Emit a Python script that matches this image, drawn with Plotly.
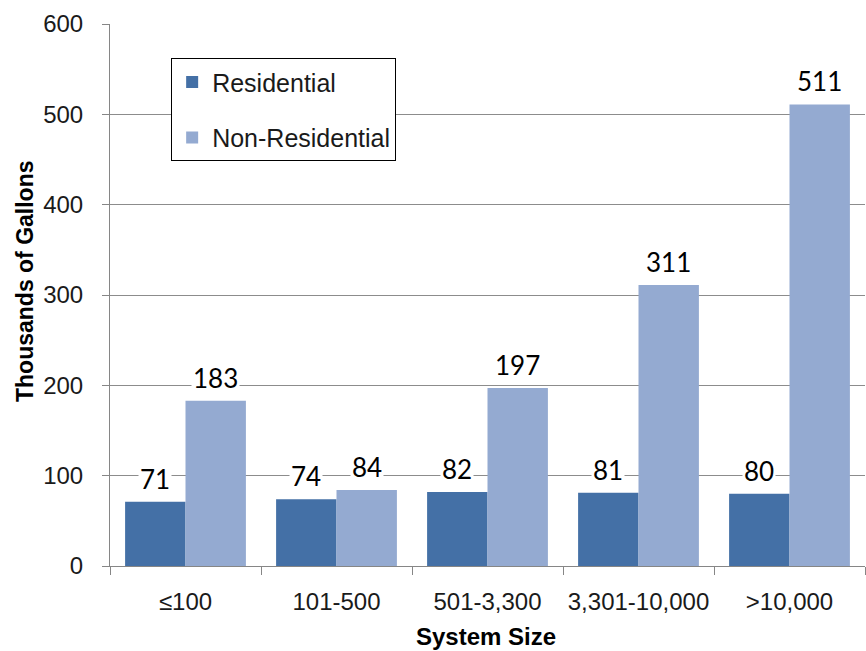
import plotly.graph_objects as go

# Water use per connection by system size
categories = ["≤100", "101-500", "501-3,300", "3,301-10,000", ">10,000"]
residential = [71, 74, 82, 81, 80]
non_residential = [183, 84, 197, 311, 511]
y_ticks = [0, 100, 200, 300, 400, 500, 600]

dark_blue = "#4470A6"
light_blue = "#94AAD1"

fig = go.Figure()
fig.add_trace(go.Bar(x=categories, y=residential, name="Residential",
                     marker=dict(color=dark_blue, line=dict(width=0)),
                     legendgroup="a"))
fig.add_trace(go.Bar(x=categories, y=non_residential, name="Non-Residential",
                     marker=dict(color=light_blue, line=dict(width=0)),
                     legendgroup="b"))

# Value labels above each bar, on a white backing so gridlines stop around them
label_font = dict(family="Lato, Open Sans, sans-serif", size=26, color="#000000")
for i, cat in enumerate(categories):
    for off, vals in ((-0.2, residential), (0.2, non_residential)):
        fig.add_annotation(x=i + off, y=vals[i], xref="x", yref="y",
                           text=str(vals[i]), showarrow=False,
                           yanchor="bottom", yshift=5,
                           bgcolor="white", borderpad=1,
                           font=label_font)

title_font = dict(size=23, family="Liberation Sans, Arial, sans-serif", color="#000000")

# Vertical axis title, placed slightly above the plot's middle
fig.add_annotation(x=0, y=0.5, xref="paper", yref="paper",
                   text="<b>Thousands of Gallons</b>", showarrow=False,
                   textangle=-90, xanchor="center", yanchor="middle",
                   xshift=-85, yshift=14, font=title_font)

# Horizontal axis title, sitting low against the bottom edge
fig.add_annotation(x=0.5, y=0, xref="paper", yref="paper",
                   text="<b>System Size</b>", showarrow=False,
                   xanchor="center", yanchor="middle",
                   xshift=-2, yshift=-70,
                   font=dict(title_font, size=24))

fig.update_layout(
    width=866, height=651,
    margin=dict(l=110, r=1, t=24, b=85, autoexpand=False),
    paper_bgcolor="white", plot_bgcolor="white",
    barmode="group", bargap=0.2, bargroupgap=0,
    font=dict(family="Liberation Sans, Arial, sans-serif", color="#1a1a1a"),
    legend=dict(x=0.081, y=0.937, xanchor="left", yanchor="top",
                bordercolor="#000000", borderwidth=1, bgcolor="white",
                font=dict(size=25, family="Liberation Sans, Arial, sans-serif"),
                tracegroupgap=20, itemwidth=30),
    xaxis=dict(
        type="category", automargin=False,
        showline=True, linecolor="#868686", linewidth=1,
        ticks="outside", tickson="boundaries", ticklen=8, tickcolor="#868686",
        ticklabelstandoff=14,
        tickfont=dict(size=24),
    ),
    yaxis=dict(
        range=[0, 600], tickvals=y_ticks, automargin=False,
        showgrid=True, gridcolor="#8C8C8C", gridwidth=1,
        showline=True, linecolor="#868686", linewidth=1,
        ticks="outside", ticklen=7, tickcolor="#868686",
        ticklabelstandoff=14,
        tickfont=dict(size=24),
        zeroline=False,
    ),
)

fig.write_html("out.html")
